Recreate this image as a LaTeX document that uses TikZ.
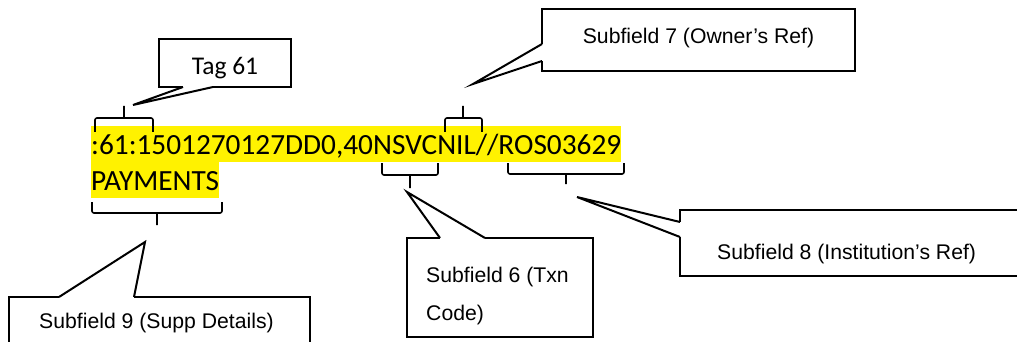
\documentclass[tikz,border=0pt]{standalone}
\usepackage{fontspec}
\setmainfont{Carlito}
\newfontfamily\calloutfont{Liberation Sans}

\begin{document}
\begin{tikzpicture}[
    x=1pt, y=-1pt,
    swift line/.style={
        fill=yellow, inner sep=0pt,
        text height=28pt, text depth=8pt,
        font=\fontsize{29.3}{35}\selectfont,
        anchor=base west
    },
    callout box/.style={
        draw, fill=white, line width=2pt,
        outer sep=0pt, inner sep=0pt,
        anchor=north west
    },
    callout text/.style={
        inner sep=0pt,
        font=\calloutfont\fontsize{21.2}{38.3}\selectfont
    },
    field brace/.style={line width=1.6pt, rounded corners=2pt},
    pointer/.style={line width=2pt}
]
\useasboundingbox (0,0) rectangle (1017,342);
\fill [white] (0,0) rectangle (1017,342);
\clip (0,0) rectangle (1017,342);

% the message line
\node [swift line] (line one) at (91,154) {:61:1501270127DD0,40NSVCNIL//ROS03629};
\node [swift line] (line two) at (91,190) {PAYMENTS};

% braces over and under the fields
\foreach \l/\r/\m/\a/\b/\c in {95/153/124/132/118/106, 445/482/463/132/118/106,
        382/438/410/163/175/188, 508/624/566/163/174/184, 92/222/157/202/213/225}
    \draw [field brace] (\l,\a) -- (\l,\b) -- (\r,\b) -- (\r,\a) (\m,\b) -- (\m,\c);

% pointer tips
\coordinate (tag tip) at (133,105);
\coordinate (owner tip) at (473,84);
\coordinate (inst tip) at (577,197);
\coordinate (txn tip) at (407,192);
\coordinate (supp tip) at (145,242);

% callout boxes
\node [callout box, minimum width=132pt, minimum height=48pt] (tag box) at (159,39) {};
\node [callout box, minimum width=313pt, minimum height=62pt] (owner box) at (542,9) {};
\node [callout box, minimum width=360pt, minimum height=66pt] (inst box) at (680,210) {};
\node [callout box, minimum width=186pt, minimum height=99pt] (txn box) at (407,238) {};
\node [callout box, minimum width=301pt, minimum height=73pt] (supp box) at (9,297) {};

\node [callout text, font=\fontsize{25.5}{30}\selectfont, anchor=base]
    (tag text) at ([yshift=-36pt]tag box.north) {Tag 61};
\node [callout text, anchor=base]
    (owner text) at ([yshift=-35pt]owner box.north) {Subfield 7 (Owner’s Ref)};
\node [callout text, anchor=base west]
    (inst text) at ([xshift=37pt,yshift=-49pt]inst box.north west) {Subfield 8 (Institution’s Ref)};
\node [callout text, anchor=north west, align=left]
    (txn text) at ([xshift=19pt,yshift=-28.5pt]txn box.north west) {Subfield 6 (Txn\\Code)};
\node [callout text, anchor=base]
    (supp text) at ([xshift=-3pt,yshift=-31pt]supp box.north) {Subfield 9 (Supp Details)};

% pointers
\fill [white] ([xshift=24pt,yshift=2pt]tag box.south west) rectangle ([xshift=54pt,yshift=-2pt]tag box.south west);
\draw [pointer] ([xshift=24pt]tag box.south west) -- (tag tip) -- ([xshift=54pt]tag box.south west);

\fill [white] ([xshift=2pt,yshift=-35pt]owner box.north west) rectangle ([xshift=-2pt,yshift=-52pt]owner box.north west);
\draw [pointer] ([yshift=-35pt]owner box.north west) -- (owner tip) -- ([yshift=-52pt]owner box.north west);

\fill [white] ([xshift=2pt,yshift=-12pt]inst box.north west) rectangle ([xshift=-2pt,yshift=-27pt]inst box.north west);
\draw [pointer] ([yshift=-12pt]inst box.north west) -- (inst tip) -- ([yshift=-27pt]inst box.north west);

\fill [white] ([xshift=33pt,yshift=2pt]txn box.north west) rectangle ([xshift=78pt,yshift=-2pt]txn box.north west);
\draw [pointer] ([xshift=33pt]txn box.north west) -- (txn tip) -- ([xshift=78pt]txn box.north west);

\fill [white] ([xshift=50pt,yshift=2pt]supp box.north west) rectangle ([xshift=125pt,yshift=-2pt]supp box.north west);
\draw [pointer] ([xshift=50pt]supp box.north west) -- (supp tip) -- ([xshift=125pt]supp box.north west);
\end{tikzpicture}
\end{document}
